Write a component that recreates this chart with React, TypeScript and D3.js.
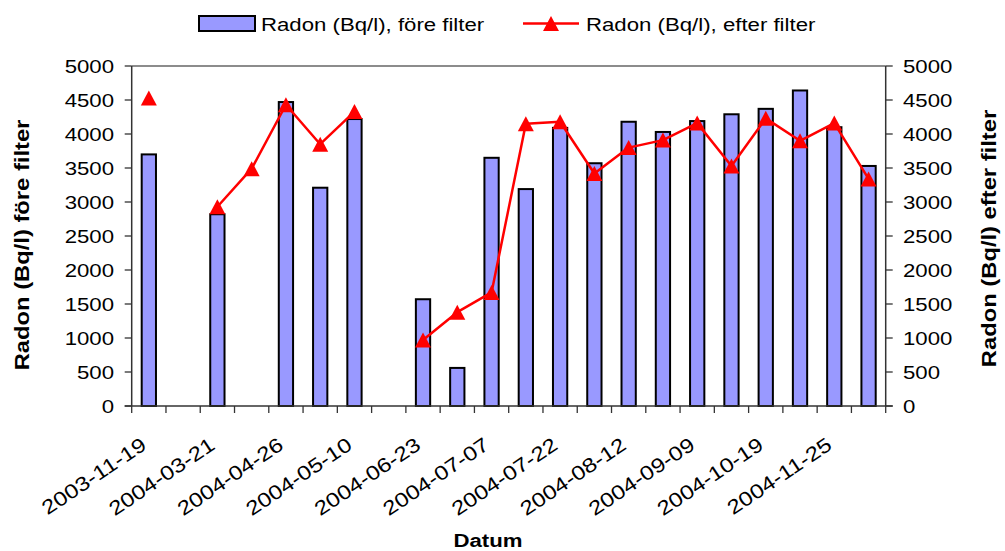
import React from "react";
import * as d3 from "d3";

// Sampling dates; only every second one carries an axis label
const categories = [
  "2003-11-19", "", "2004-03-21", "", "2004-04-26", "", "2004-05-10", "",
  "2004-06-23", "", "2004-07-07", "", "2004-07-22", "", "2004-08-12", "",
  "2004-09-09", "", "2004-10-19", "", "2004-11-25", "",
];

// Radon before the filter (Bq/l), bars
const beforeFilter: (number | null)[] = [
  3700, null, 2820, null, 4470, 3210, 4220, null,
  1570, 560, 3650, 3190, 4090, 3570, 4180, 4030,
  4190, 4290, 4370, 4640, 4100, 3530,
];

// Radon after the filter (Bq/l), line with triangles
const afterFilter: (number | null)[] = [
  4530, null, 2930, 3490, 4430, 3850, 4330, null,
  970, 1380, 1670, 4150, 4180, 3420, 3800, 3910,
  4160, 3530, 4230, 3900, 4160, 3340,
];

const yTicks = [0, 500, 1000, 1500, 2000, 2500, 3000, 3500, 4000, 4500, 5000];

const seriesNames = ["Radon (Bq/l), före filter", "Radon (Bq/l), efter filter"];
const axisTitles = ["Radon (Bq/l) före filter", "Radon (Bq/l) efter filter", "Datum"];

const W = 1005;
const H = 551;
const M = { left: 131.7, right: 885.7, top: 66, bottom: 406 };
const FONT = "'Liberation Sans', Arial, Helvetica, sans-serif";
const SX = 1.2; // glyph widening used by the chart's typeface
const BAR_FILL = "#9999FF";
const RED = "#FF0000";

function Triangle({ x, y }: { x: number; y: number }) {
  const w = 8;
  const h = 7.5;
  return (
    <polygon
      points={`${x},${y - h} ${x + w},${y + h} ${x - w},${y + h}`}
      fill={RED}
    />
  );
}

export default function App() {
  const idx = d3.range(categories.length).map(String);
  const x = d3.scaleBand<string>().domain(idx).range([M.left, M.right]).padding(0);
  const y = d3.scaleLinear().domain([0, 5000]).range([M.bottom, M.top]);
  const bw = x.bandwidth();
  const barW = bw / 2.4;
  const cx = (i: number) => (x(String(i)) as number) + bw / 2;

  const line = d3
    .line<number | null>()
    .defined((d) => d !== null)
    .x((_, i) => cx(i))
    .y((d) => y(d as number));

  const boundaries = d3.range(categories.length + 1).map((i) => M.left + i * bw);

  return (
    <svg width={W} height={H} style={{ position: "absolute", left: 0, top: 0, background: "#fff" }} fontFamily={FONT}>
      <rect x={0} y={0} width={W} height={H} fill="#fff" />

      {/* legend */}
      <rect x={199} y={16} width={56} height={15} fill={BAR_FILL} stroke="#000" strokeWidth={2} />
      <text transform={`translate(261,30.5) scale(${SX},1)`} fontSize={18.5} fill="#000">
        {seriesNames[0]}
      </text>
      <line x1={523} x2={579} y1={23.5} y2={23.5} stroke={RED} strokeWidth={2.5} />
      <Triangle x={551} y={23.5} />
      <text transform={`translate(586,30.5) scale(${SX},1)`} fontSize={18.5} fill="#000">
        {seriesNames[1]}
      </text>

      {/* top frame line */}
      <line x1={M.left} x2={M.right} y1={M.top} y2={M.top} stroke="#8c8c8c" strokeWidth={2} />

      {/* bars */}
      {beforeFilter.map((v, i) =>
        v === null ? null : (
          <rect
            key={i}
            x={cx(i) - barW / 2}
            y={y(v)}
            width={barW}
            height={M.bottom - y(v)}
            fill={BAR_FILL}
            stroke="#000"
            strokeWidth={2}
          />
        )
      )}

      {/* axes */}
      <line x1={M.left} x2={M.left} y1={M.top} y2={M.bottom} stroke="#333" strokeWidth={1.5} />
      <line x1={M.right} x2={M.right} y1={M.top} y2={M.bottom} stroke="#333" strokeWidth={1.5} />
      <line x1={M.left - 7} x2={M.right + 7} y1={M.bottom} y2={M.bottom} stroke="#333" strokeWidth={1.5} />
      {yTicks.map((t) => (
        <g key={t}>
          <line x1={M.left - 7} x2={M.left} y1={y(t)} y2={y(t)} stroke="#333" strokeWidth={1.3} />
          <line x1={M.right} x2={M.right + 7} y1={y(t)} y2={y(t)} stroke="#333" strokeWidth={1.3} />
          <text
            transform={`translate(114,${y(t)}) scale(${SX},1)`}
            textAnchor="end"
            dy="0.36em"
            fontSize={18.5}
            fill="#000"
          >
            {t}
          </text>
          <text
            transform={`translate(903,${y(t)}) scale(${SX},1)`}
            dy="0.36em"
            fontSize={18.5}
            fill="#000"
          >
            {t}
          </text>
        </g>
      ))}
      {boundaries.map((b, i) => (
        <line key={i} x1={b} x2={b} y1={M.bottom} y2={M.bottom + 7} stroke="#333" strokeWidth={1.3} />
      ))}

      {/* category labels */}
      {categories.map((c, i) =>
        c ? (
          <text
            key={i}
            transform={`translate(${cx(i) - 1},448) rotate(-34) scale(${SX},1)`}
            textAnchor="end"
            fontSize={20}
            fill="#000"
          >
            {c}
          </text>
        ) : null
      )}

      {/* line series */}
      <path d={line(afterFilter) || ""} fill="none" stroke={RED} strokeWidth={2.5} strokeLinejoin="round" />
      {afterFilter.map((v, i) => (v === null ? null : <Triangle key={i} x={cx(i)} y={y(v)} />))}

      {/* axis titles */}
      <text
        transform={`translate(22,245) rotate(-90) scale(${SX},1)`}
        textAnchor="middle"
        dy="0.35em"
        fontSize={19.8}
        fontWeight="bold"
        fill="#000"
      >
        {axisTitles[0]}
      </text>
      <text
        transform={`translate(989,238.5) rotate(-90) scale(${SX},1)`}
        textAnchor="middle"
        dy="0.35em"
        fontSize={19.8}
        fontWeight="bold"
        fill="#000"
      >
        {axisTitles[1]}
      </text>
      <text
        transform={`translate(488,546.5) scale(${SX},1)`}
        textAnchor="middle"
        fontSize={18.5}
        fontWeight="bold"
        fill="#000"
      >
        {axisTitles[2]}
      </text>
    </svg>
  );
}
